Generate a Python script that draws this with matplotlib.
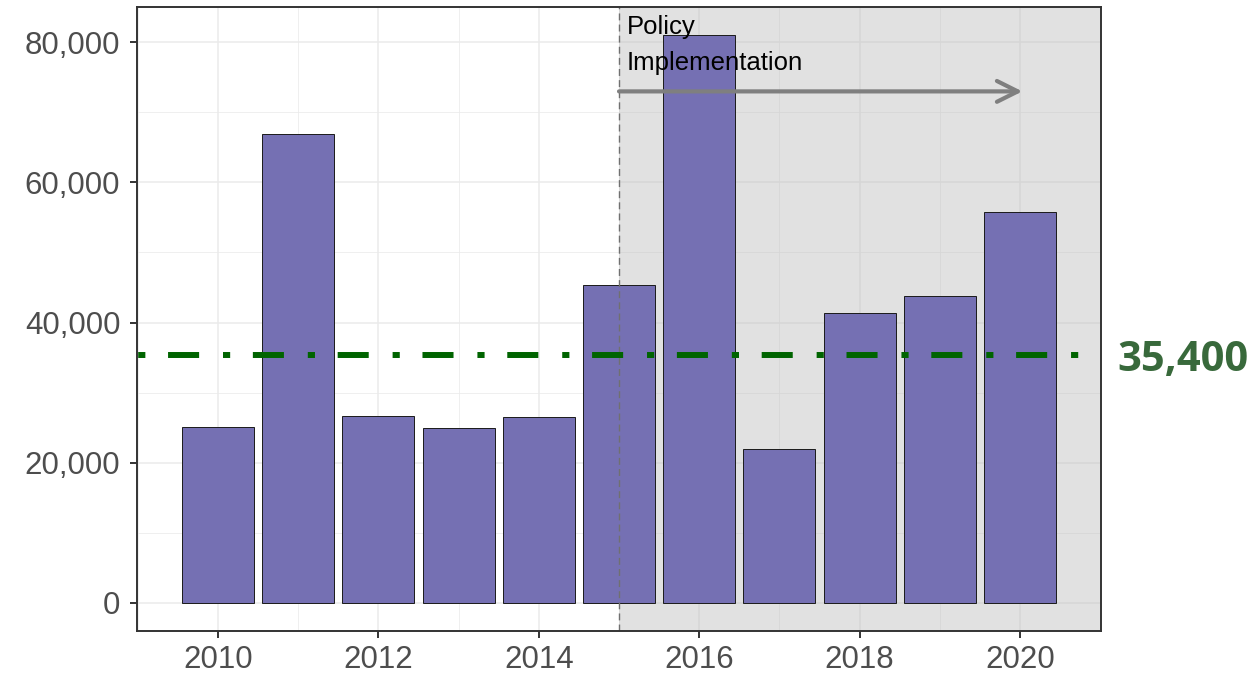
import matplotlib
matplotlib.use("Agg")
import matplotlib.pyplot as plt
from matplotlib.patches import Rectangle, FancyArrowPatch
from matplotlib.ticker import FuncFormatter, MultipleLocator

years = [2010, 2011, 2012, 2013, 2014, 2015, 2016, 2017, 2018, 2019, 2020]
values = [25100, 66900, 26700, 25000, 26500, 45300, 81000, 22000, 41400, 43800, 55800]
ref_value = 35400
ref_label = "35,400"
policy_year = 2015
arrow_end_year = 2020
arrow_y = 73000
policy_text = "Policy\nImplementation"

plt.rcParams['font.family'] = ['Liberation Sans', 'DejaVu Sans']

fig = plt.figure(figsize=(12.54, 6.77), dpi=100)
ax = fig.add_axes([137/1254, 1-631/677, (1101-137)/1254, (631-7)/677])

xmin, xmax = 2008.99, 2021.01
ymin, ymax = -4050, 85050
ax.set_xlim(xmin, xmax)
ax.set_ylim(ymin, ymax)

# grid
ax.xaxis.set_major_locator(MultipleLocator(2))
ax.xaxis.set_minor_locator(MultipleLocator(1))
ax.yaxis.set_major_locator(MultipleLocator(20000))
ax.yaxis.set_minor_locator(MultipleLocator(10000))
ax.grid(True, which='major', color='#ebebeb', lw=1.1, zorder=0)
ax.grid(True, which='minor', color='#ebebeb', lw=0.55, zorder=0)
ax.set_axisbelow(True)

# shaded region
ax.add_patch(Rectangle((policy_year, ymin), xmax - policy_year, ymax - ymin,
                       facecolor='#bdbdbd', alpha=0.45, edgecolor='none', zorder=1))

ax.bar(years, values, width=0.9, color='#7570b3', edgecolor='#1a1a1a', linewidth=0.7, zorder=2)

ax.axvline(policy_year, color='#707070', lw=1.0, ls=(0, (5, 3)), zorder=3)

ax.axhline(ref_value, color='#006400', lw=4.3, ls=(9.0, (5.2, 4.0, 1.2, 3.8)),
           dash_capstyle='butt', zorder=4)

arr = FancyArrowPatch((policy_year, arrow_y), (arrow_end_year + 0.03, arrow_y),
                      arrowstyle='->,head_length=15,head_width=7.5', mutation_scale=1,
                      color='#7f7f7f', lw=3, shrinkA=0, shrinkB=0, zorder=5)
ax.add_patch(arr)

ax.text(policy_year + 0.1, 83900, policy_text, ha='left', va='top', fontsize=18.5,
        color='black', linespacing=1.65, zorder=6)

ax.text(1.0166, ref_value - 850, ref_label, transform=ax.get_yaxis_transform(),
        ha='left', va='center', fontsize=30, fontweight='bold', color='#38693b',
        family=['Open Sans', 'DejaVu Sans'], clip_on=False)

ax.set_xticks([2010, 2012, 2014, 2016, 2018, 2020])
ax.yaxis.set_major_formatter(FuncFormatter(lambda v, p: f"{int(v):,}"))
ax.tick_params(axis='both', which='major', length=5, width=1.4, color='#333333',
               labelcolor='#4d4d4d', labelsize=22.5)
ax.tick_params(axis='x', pad=5)
ax.tick_params(axis='y', pad=7)
ax.tick_params(which='minor', length=0)

for s in ax.spines.values():
    s.set_color('#333333')
    s.set_linewidth(1.4)
    s.set_zorder(7)

fig.savefig('out.png', dpi=100)
